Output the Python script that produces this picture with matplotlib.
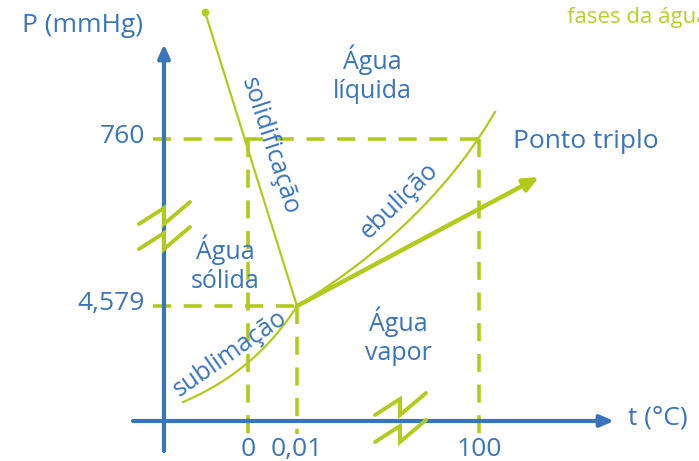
import numpy as np
import matplotlib
matplotlib.use("Agg")
import matplotlib.pyplot as plt

# ---- schematic data (phase diagram of water, not to scale) ----
t_ticks = ["0", "0,01", "100"]
t_pos = [248, 297, 479]          # schematic x positions of temperature ticks
P_ticks = ["4,579", "760"]
P_pos = [306, 139]               # schematic y positions of pressure ticks

triple = (297, 306)
solid_top = (205, 12)
subl_start = (183, 402)
subl_ctrl = (256, 371)
vap_end = (495, 112)
vap_ctrl = (428, 226)
arrow_tip = (539, 177)

BLUE = "#3A74BA"
GREEN = "#B2CA1B"
FONT = ["Open Sans", "DejaVu Sans"]

fig = plt.figure(figsize=(6.99, 4.61), dpi=100)
ax = fig.add_axes([0, 0, 1, 1])
ax.set_xlim(0, 699)
ax.set_ylim(461, 0)
ax.axis("off")

def bez(p0, p1, p2, n=100):
    t = np.linspace(0, 1, n)[:, None]
    p0, p1, p2 = map(np.array, (p0, p1, p2))
    return (1 - t) ** 2 * p0 + 2 * t * (1 - t) * p1 + t ** 2 * p2

# axes
x_axis_y = 421
y_axis_x = 164
ax.annotate("", xy=(614, x_axis_y), xytext=(133, x_axis_y),
            arrowprops=dict(arrowstyle="-|>,head_length=0.8,head_width=0.35", color=BLUE, lw=3, shrinkA=0, shrinkB=0))
ax.annotate("", xy=(y_axis_x, 44), xytext=(y_axis_x, 451),
            arrowprops=dict(arrowstyle="-|>,head_length=0.8,head_width=0.35", color=BLUE, lw=3, shrinkA=0, shrinkB=0))

# dashed reference lines
dash = dict(color=GREEN, lw=2.6, linestyle=(0, (5, 3.5)), solid_capstyle="butt")
ax.plot([153, t_pos[2]], [P_pos[1], P_pos[1]], **dash)
ax.plot([153, triple[0]], [P_pos[0], P_pos[0]], **dash)
ax.plot([t_pos[0], t_pos[0]], [P_pos[1], 434], **dash)
ax.plot([t_pos[1], t_pos[1]], [P_pos[0], 434], **dash)
ax.plot([t_pos[2], t_pos[2]], [P_pos[1], 434], **dash)

# phase boundaries
ax.plot([solid_top[0], triple[0]], [solid_top[1], triple[1]], color=GREEN, lw=1.6)
ax.plot(*solid_top, "o", color=GREEN, ms=4.5)
s = bez(subl_start, subl_ctrl, triple)
ax.plot(s[:, 0], s[:, 1], color=GREEN, lw=1.6)
v = bez(triple, vap_ctrl, vap_end)
ax.plot(v[:, 0], v[:, 1], color=GREEN, lw=1.6)

# triple point arrow
ax.annotate("", xy=arrow_tip, xytext=triple,
            arrowprops=dict(arrowstyle="-|>,head_length=0.9,head_width=0.4", color=GREEN, lw=3.2, shrinkA=0, shrinkB=0))

# axis breaks
def zig(x0, y0, color=GREEN):
    # N-shaped break mark centred at (x0, y0)
    xs = [x0 - 25, x0, x0, x0 + 26]
    ys = [y0 + 9, y0 - 7, y0 + 9, y0 - 13]
    ax.plot(xs, ys, color=color, lw=2.8, solid_capstyle="round", solid_joinstyle="miter", zorder=3)

zig(y_axis_x, 215)
zig(y_axis_x, 240)
zig(400, 406)
zig(400, 433)

# tick labels
tk = dict(color=BLUE, fontsize=19, family=FONT)
for lab, x in zip(t_ticks, t_pos):
    ax.text(x, 449, lab, ha="center", va="center", **tk)
for lab, y in zip(P_ticks, P_pos):
    ax.text(145, y - 3, lab, ha="right", va="center", **tk)

ax.text(82, 25, "P (mmHg)", ha="center", va="center", **tk)
ax.text(658, 418, "t (°C)", ha="center", va="center", **tk)

lab = dict(color=BLUE, fontsize=18, family=FONT, ha="center", va="center", linespacing=1.2)
ax.text(372, 74, "Água\nlíquida", **lab)
ax.text(225, 264, "Água\nsólida", **lab)
ax.text(398, 336, "Água\nvapor", **lab)
ax.text(586, 141, "Ponto triplo", color=BLUE, fontsize=19, family=FONT, ha="center", va="center")

ax.text(270, 146, "solidificação", rotation=-72, rotation_mode="anchor", **lab)
ax.text(399, 201, "ebulição", rotation=44, rotation_mode="anchor", **lab)
ax.text(230, 354, "sublimação", rotation=35, rotation_mode="anchor", **lab)

ax.text(567, 18, "fases da água", color="#B7CF2C", fontsize=16, family=FONT, ha="left", va="center")
ax.text(539, -12, "Diagrama de", color="#B7CF2C", fontsize=16, family=FONT, ha="left", va="center")

fig.savefig("out.png", dpi=100)
